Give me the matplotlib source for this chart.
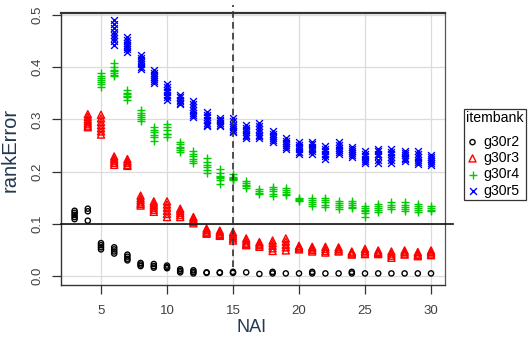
import matplotlib

matplotlib.use("Agg")
import matplotlib.pyplot as plt  # noqa: E402

plt.rcParams["font.family"] = ["Liberation Sans", "DejaVu Sans"]

# replicate rankError values per NAI
nai_r2 = [3, 4, 5, 6, 7, 8, 9, 10, 11, 12, 13, 14, 15, 16, 17, 18, 19, 20,
          21, 22, 23, 24, 25, 26, 27, 28, 29, 30]
err_r2 = [
    [0.125, 0.121, 0.117, 0.113, 0.109], [0.129, 0.124, 0.106],
    [0.063, 0.059, 0.055, 0.051], [0.055, 0.051, 0.047, 0.043],
    [0.041, 0.037, 0.033, 0.030], [0.025, 0.022, 0.019],
    [0.023, 0.019, 0.016], [0.020, 0.017, 0.015],
    [0.013, 0.010, 0.007], [0.011, 0.008, 0.005],
    [0.007, 0.006], [0.007, 0.006], [0.008, 0.006], [0.007], [0.004],
    [0.008, 0.005], [0.005], [0.005], [0.008, 0.005], [0.005], [0.005],
    [0.008, 0.005], [0.005], [0.005], [0.005], [0.005], [0.005], [0.005],
]

nai_r3 = [4, 5, 6, 7, 8, 9, 10, 11, 12, 13, 14, 15, 16, 17, 18, 19, 20,
          21, 22, 23, 24, 25, 26, 27, 28, 29, 30]
err_r3 = [
    [0.310, 0.305, 0.300, 0.296, 0.292, 0.288, 0.285],
    [0.309, 0.302, 0.295, 0.289, 0.283, 0.277, 0.271],
    [0.229, 0.225, 0.221, 0.217, 0.213],
    [0.224, 0.220, 0.217, 0.213, 0.211],
    [0.154, 0.149, 0.145, 0.141, 0.138, 0.135],
    [0.143, 0.139, 0.135, 0.131, 0.127, 0.123],
    [0.143, 0.137, 0.131, 0.125, 0.119, 0.113],
    [0.129, 0.125, 0.121, 0.117, 0.113],
    [0.113, 0.110, 0.107, 0.104, 0.101],
    [0.091, 0.088, 0.085, 0.083, 0.081],
    [0.087, 0.084, 0.081, 0.079, 0.077],
    [0.084, 0.080, 0.076, 0.072, 0.068],
    [0.072, 0.068, 0.064, 0.061, 0.059],
    [0.065, 0.062, 0.059, 0.056],
    [0.068, 0.063, 0.058, 0.053, 0.048],
    [0.072, 0.066, 0.060, 0.055, 0.049],
    [0.058, 0.055, 0.053, 0.051],
    [0.056, 0.053, 0.050, 0.047],
    [0.056, 0.052, 0.048, 0.045],
    [0.055, 0.052, 0.049, 0.047],
    [0.047, 0.045, 0.043, 0.041],
    [0.052, 0.048, 0.045, 0.042],
    [0.049, 0.046, 0.044, 0.042],
    [0.047, 0.043, 0.039, 0.035],
    [0.049, 0.046, 0.043, 0.041],
    [0.046, 0.043, 0.040, 0.038],
    [0.049, 0.046, 0.043, 0.040],
]

nai_r4 = [5, 6, 7, 8, 9, 10, 11, 12, 13, 14, 15, 16, 17, 18, 19, 20,
          21, 22, 23, 24, 25, 26, 27, 28, 29, 30]
err_r4 = [
    [0.389, 0.384, 0.380, 0.376, 0.372, 0.368, 0.362],
    [0.408, 0.400, 0.395, 0.392, 0.389, 0.386, 0.383],
    [0.356, 0.351, 0.348, 0.345, 0.342, 0.338],
    [0.318, 0.313, 0.309, 0.305, 0.301, 0.297],
    [0.286, 0.280, 0.275, 0.271, 0.266, 0.259],
    [0.292, 0.285, 0.279, 0.273, 0.267, 0.272],
    [0.257, 0.252, 0.248, 0.245, 0.242, 0.238],
    [0.240, 0.234, 0.229, 0.225, 0.221, 0.217],
    [0.226, 0.219, 0.213, 0.208, 0.203, 0.198],
    [0.205, 0.197, 0.192, 0.190, 0.187, 0.183, 0.176],
    [0.195, 0.190, 0.187, 0.185, 0.183, 0.186],
    [0.182, 0.178, 0.175, 0.172, 0.169],
    [0.166, 0.162, 0.159, 0.157],
    [0.171, 0.166, 0.162, 0.158, 0.154],
    [0.168, 0.164, 0.161, 0.158, 0.156],
    [0.150, 0.147, 0.145, 0.143],
    [0.150, 0.146, 0.142, 0.138, 0.134],
    [0.150, 0.145, 0.141, 0.137, 0.133],
    [0.144, 0.140, 0.136, 0.132, 0.129],
    [0.144, 0.140, 0.136, 0.133, 0.130],
    [0.134, 0.130, 0.127, 0.125, 0.121, 0.114],
    [0.138, 0.134, 0.130, 0.126, 0.123],
    [0.141, 0.137, 0.133, 0.129],
    [0.141, 0.137, 0.133, 0.128, 0.124],
    [0.138, 0.134, 0.130, 0.126, 0.123],
    [0.135, 0.131, 0.127, 0.124],
]

nai_r5 = [6, 7, 8, 9, 10, 11, 12, 13, 14, 15, 16, 17, 18, 19, 20,
          21, 22, 23, 24, 25, 26, 27, 28, 29, 30]
err_r5 = [
    [0.490, 0.482, 0.475, 0.468, 0.461, 0.455, 0.450, 0.443],
    [0.458, 0.452, 0.447, 0.443, 0.438, 0.434, 0.430],
    [0.423, 0.418, 0.414, 0.410, 0.406, 0.401, 0.397],
    [0.394, 0.389, 0.385, 0.381, 0.378, 0.374, 0.370],
    [0.368, 0.362, 0.357, 0.352, 0.347, 0.343, 0.338],
    [0.346, 0.342, 0.338, 0.335, 0.332, 0.329],
    [0.335, 0.329, 0.323, 0.318, 0.313, 0.308, 0.304],
    [0.314, 0.309, 0.304, 0.299, 0.294, 0.290, 0.287],
    [0.303, 0.299, 0.296, 0.293, 0.290, 0.287],
    [0.303, 0.296, 0.290, 0.285, 0.281, 0.278, 0.275],
    [0.289, 0.284, 0.279, 0.275, 0.271, 0.268, 0.265],
    [0.294, 0.287, 0.281, 0.276, 0.271, 0.268, 0.265],
    [0.278, 0.273, 0.268, 0.264, 0.260, 0.256],
    [0.264, 0.259, 0.255, 0.251, 0.247, 0.243],
    [0.256, 0.251, 0.247, 0.243, 0.238, 0.234],
    [0.256, 0.252, 0.248, 0.243, 0.239, 0.234],
    [0.249, 0.244, 0.239, 0.234, 0.229, 0.225],
    [0.256, 0.251, 0.246, 0.242, 0.238, 0.234],
    [0.247, 0.243, 0.239, 0.235, 0.231, 0.228],
    [0.239, 0.234, 0.229, 0.225, 0.221, 0.217],
    [0.244, 0.239, 0.234, 0.229, 0.222, 0.217],
    [0.244, 0.238, 0.233, 0.228, 0.222, 0.217],
    [0.239, 0.235, 0.231, 0.227, 0.224, 0.221],
    [0.239, 0.233, 0.228, 0.223, 0.219, 0.215],
    [0.232, 0.228, 0.224, 0.220, 0.216, 0.212],
]

x_ticks = [5, 10, 15, 20, 25, 30]
y_ticks = [0.0, 0.1, 0.2, 0.3, 0.4, 0.5]


def _flatten(nai, err):
    xs, ys = [], []
    for n, vals in zip(nai, err):
        xs += [n] * len(vals)
        ys += vals
    return xs, ys


fig = plt.figure(figsize=(5.31, 3.41), dpi=100)
ax = fig.add_axes([61 / 531, 1 - 285 / 341, 384 / 531, 272.3 / 341])
ax.set_xlim(1.97, 31.06)
ax.set_ylim(-0.0172, 0.5044)

series = [
    ("g30r2", nai_r2, err_r2, dict(marker="o", s=14, facecolors="none",
                                   edgecolors="#000000", linewidths=1.0)),
    ("g30r3", nai_r3, err_r3, dict(marker="^", s=26, facecolors="none",
                                   edgecolors="#ff0000", linewidths=1.0)),
    ("g30r4", nai_r4, err_r4, dict(marker="+", s=40, c="#00cd00", linewidths=1.0)),
    ("g30r5", nai_r5, err_r5, dict(marker="x", s=24, c="#0000ff", linewidths=1.0)),
]
handles = []
for name, nai, err, kw in series:
    xs, ys = _flatten(nai, err)
    handles.append(ax.scatter(xs, ys, label=name, zorder=3, **kw))

ax.set_xticks(x_ticks)
ax.set_yticks(y_ticks)
ax.set_yticklabels([f"{v:.1f}" for v in y_ticks], rotation=90, va="center")
ax.grid(True, color="#dcdcdc", lw=0.9, zorder=0)
ax.set_axisbelow(True)
ax.tick_params(direction="out", length=6.5, width=0.9, color="#333333",
               labelsize=9.5, labelcolor="#404040")
ax.tick_params(axis="x", pad=8)
ax.tick_params(axis="y", pad=6)

for side in ("left", "bottom"):
    ax.spines[side].set_color("#333333")
    ax.spines[side].set_linewidth(1.0)
ax.spines["top"].set_color("#333333")
ax.spines["top"].set_linewidth(1.6)
ax.spines["right"].set_color("#555555")
ax.spines["right"].set_linewidth(0.9)

ax.axhline(0.1, xmin=0, xmax=1.021, color="#111111", lw=1.2, clip_on=False, zorder=4)
ax.axvline(15, ymin=0.066, ymax=1.028, color="#333333", lw=1.2,
           ls=(0, (4, 2.5)), clip_on=False, zorder=4)

fig.text(10 / 531, 1 - 150 / 341, "rankError", rotation=90, ha="center",
         va="center", fontsize=14.5, color="#243852")
fig.text(252 / 531, 1 - 328 / 341, "NAI", ha="center", va="center",
         fontsize=13, color="#243852")

leg = fig.legend(handles=handles, loc="upper left",
                 bbox_to_anchor=(464 / 531, 1 - 109 / 341), title="itembank",
                 fontsize=10.2, title_fontsize=10.2, fancybox=False, framealpha=1,
                 edgecolor="#333333", borderpad=0.15, labelspacing=0.16,
                 handlelength=0.9, handletextpad=0.35, borderaxespad=0)
leg._legend_box.align = "left"
leg._legend_box.sep = 7
leg.get_frame().set_linewidth(0.9)

fig.savefig("out.png", dpi=100)
